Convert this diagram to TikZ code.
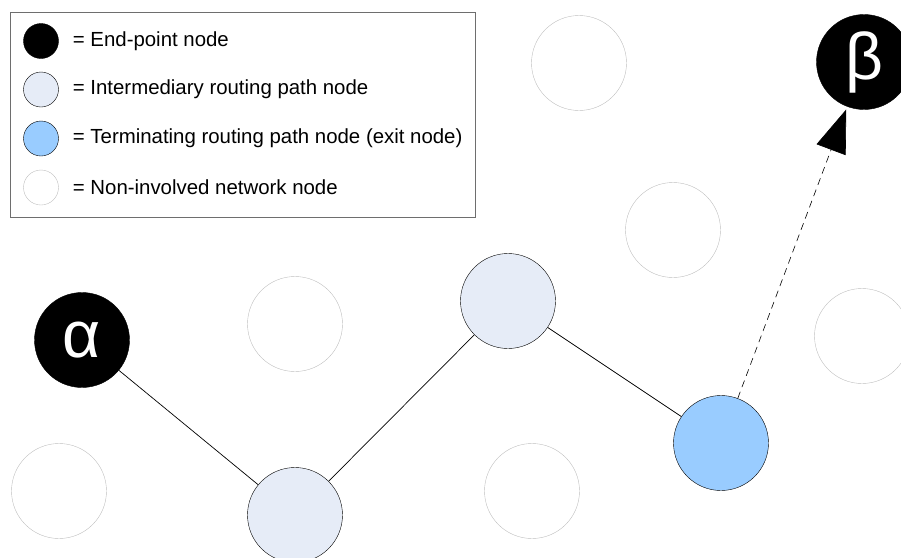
\documentclass[tikz,border=0pt]{standalone}
\usepackage{fontspec}
\setmainfont{Liberation Sans}
\usetikzlibrary{arrows.meta}
\usetikzlibrary{positioning}
\definecolor{midblue}{HTML}{E6ECF7}
\definecolor{exitblue}{HTML}{99CCFF}
\definecolor{idlegray}{HTML}{BEBEBE}
\definecolor{boxgray}{HTML}{6E6E6E}

\begin{document}
\begin{tikzpicture}[x=1pt,y=-1pt]
  \tikzset{endnode/.style = {shape=circle,draw,fill=black,text=white,minimum size=95pt,inner sep=0pt,font=\fontsize{66}{66}\selectfont}}
  \tikzset{midnode/.style = {shape=circle,draw,fill=midblue,minimum size=95pt,inner sep=0pt}}
  \tikzset{exitnode/.style = {shape=circle,draw,fill=exitblue,minimum size=95pt,inner sep=0pt}}
  \tikzset{idlenode/.style = {shape=circle,draw=idlegray,minimum size=95pt,inner sep=0pt}}
  \tikzset{legdot/.style = {shape=circle,minimum size=35pt,inner sep=0pt}}
  \tikzset{legtext/.style = {inner sep=0pt,font=\fontsize{20.4}{24}\selectfont}}
  \tikzset{edge/.style = {line width=0.7pt}}
  \tikzset{%
  tipB/.tip={Triangle[length=43pt,width=31pt]},
}

  \useasboundingbox (0,0) rectangle (901,557);

  % legend
  \draw[boxgray,line width=0.8pt] (10,12) rectangle (475,217);
	\node[legdot,draw,fill=black] (lgEnd) at (41,41) {};
	\node[legdot,draw,fill=midblue] (lgMid) at (41,89.5) {};
	\node[legdot,draw,fill=exitblue] (lgExit) at (41,138.5) {};
	\node[legdot,draw=idlegray] (lgIdle) at (41,187.5) {};
	\node[legtext,right=14pt of lgEnd] {= End-point node};
	\node[legtext,right=14pt of lgMid] {= Intermediary routing path node};
	\node[legtext,right=14pt of lgExit] {= Terminating routing path node (exit node)};
	\node[legtext,right=14pt of lgIdle] {= Non-involved network node};

  % network
	\node[idlenode] (N1) at (579,63) {};
	\node[idlenode] (N2) at (673,230) {};
	\node[idlenode] (N3) at (295,324) {};
	\node[idlenode] (N4) at (862,336) {};
	\node[idlenode] (N5) at (59,491) {};
	\node[idlenode] (N6) at (532,491) {};

	\node[endnode] (A) at (82,340) {α};
	\node[endnode] (B) at (864,62) {\raisebox{-5pt}{β}};
	\node[midnode] (M1) at (295,515) {};
	\node[midnode] (M2) at (508,301) {};
	\node[exitnode] (X) at (721,443) {};

    \foreach \from/\to in {A/M1, M1/M2, M2/X}
    \path[edge](\from) edge (\to);

    \foreach \from/\to in {X/B}
    \path[-tipB,line width=0.6pt,dash pattern=on 7pt off 5pt,shorten >=3pt](\from) edge (\to);

\end{tikzpicture}
\end{document}
